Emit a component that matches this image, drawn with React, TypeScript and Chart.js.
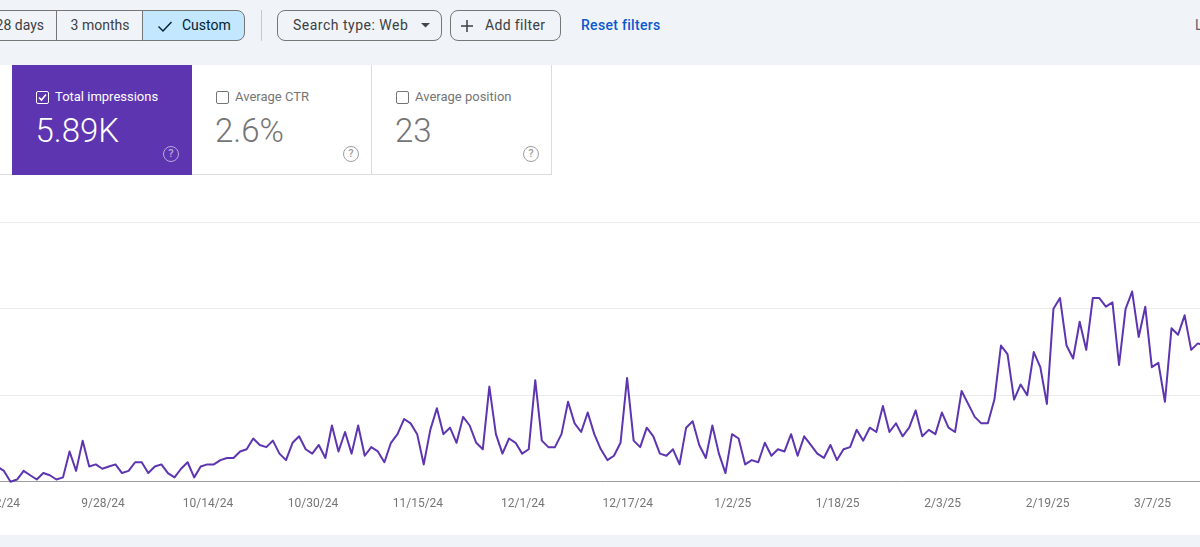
import React, { useEffect, useRef } from "react";
import { Chart, registerables } from "chart.js";

Chart.register(...registerables);

// Daily total impressions, one value per day from 9/12/24
const impressions = [
  7, 5, 0, 1, 5, 3, 1, 4, 3, 1, 2, 14, 5, 19, 7, 8,
  6, 7, 8, 4, 5, 9, 9, 4, 7, 8, 4, 2, 6, 9, 2, 7,
  8, 8, 10, 11, 11, 14, 15, 20, 17, 16, 19, 13, 10, 18, 21, 15,
  13, 17, 11, 26, 14, 23, 13, 26, 12, 16, 14, 9, 18, 22,
  29, 27, 22, 8, 24, 34, 22, 25, 18, 30, 26, 18, 15, 44, 22, 13,
  20, 18, 13, 15, 47, 19, 16, 16, 22, 37, 27, 23, 32, 22, 15, 10,
  12, 18, 48, 19, 16, 25, 21, 13, 12, 15, 8, 25, 28, 17, 11, 26,
  13, 4, 22, 20, 8, 10, 9, 18, 12, 15, 14, 22, 12,
  21, 17, 13, 11, 17, 10, 15, 16, 24, 19, 25, 23, 35, 23, 27, 21,
  25, 33, 21, 24, 22, 32, 25, 23, 42, 36, 30, 27, 27, 38, 63, 59,
  38, 45, 40, 60, 53, 36, 80, 85, 63, 57, 74, 61, 85, 85, 81, 83,
  54, 80, 88, 67, 81, 53, 55, 37, 71, 68, 77, 61, 64, 63,
];
const firstDay = Date.UTC(2024, 8, 12);
const dayMs = 86400000;
const tickEvery = 16;
const yTicks = [0, 40, 80, 120];

const categories = impressions.map((_, i) => {
  const d = new Date(firstDay + i * dayMs);
  return `${d.getUTCMonth() + 1}/${d.getUTCDate()}/${String(d.getUTCFullYear()).slice(2)}`;
});

const metricCards = [
  { title: "Average CTR", value: "2.6%", left: 192 },
  { title: "Average position", value: "23", left: 372 },
];

const FONT = "Roboto, sans-serif";
const PURPLE = "#5e35b1";

function Help({ x, y, color }: { x: number; y: number; color: string }) {
  return (
    <div
      style={{
        position: "absolute", left: x, top: y, width: 14, height: 14, borderRadius: "50%",
        border: `1.5px solid ${color}`, color, fontSize: 11, lineHeight: "14px",
        textAlign: "center", fontFamily: FONT, fontWeight: 500,
      }}
    >
      ?
    </div>
  );
}

export default function App() {
  const ref = useRef<HTMLCanvasElement | null>(null);

  useEffect(() => {
    document.body.style.margin = "0";
    const chart = new Chart(ref.current!, {
      type: "line",
      data: {
        labels: categories,
        datasets: [
          {
            data: impressions,
            borderColor: PURPLE,
            borderWidth: 2,
            borderJoinStyle: "round",
            pointRadius: 0,
            tension: 0,
            clip: false,
          },
        ],
      },
      options: {
        animation: false,
        responsive: false,
        devicePixelRatio: 1,
        layout: { padding: { left: 57.4, right: 5.7, top: 42.4, bottom: 0 } },
        plugins: { legend: { display: false }, tooltip: { enabled: false } },
        scales: {
          x: {
            type: "category",
            grid: { display: false },
            border: { display: false },
            afterFit: (s: any) => { s.height = 53.3; s.paddingLeft = 0; s.paddingRight = 0; },
            ticks: {
              autoSkip: false,
              maxRotation: 0,
              minRotation: 0,
              padding: 7,
              labelOffset: 0.7,
              color: "#757575",
              font: { family: FONT, size: 12 },
              callback: (_: any, i: number) => (i % tickEvery === 0 ? categories[i] : ""),
            },
          },
          y: {
            min: yTicks[0],
            max: yTicks[yTicks.length - 1],
            afterBuildTicks: (s: any) => { s.ticks = yTicks.map((value) => ({ value })); },
            afterFit: (s: any) => { s.width = 0; },
            border: { display: false },
            ticks: { display: false },
            grid: {
              drawTicks: false,
              lineWidth: 1,
              color: (c: any) => (c.tick.value === 0 ? "#9e9e9e" : "#ebebeb"),
            },
          },
        },
      },
    });
    return () => chart.destroy();
  }, []);

  const seg: React.CSSProperties = {
    position: "absolute", top: 10, height: 31, boxSizing: "border-box", paddingBottom: 2,
    border: "1px solid #747775", display: "flex", alignItems: "center",
    fontFamily: FONT, fontSize: 14, color: "#3c4043",
  };

  return (
    <div style={{ position: "relative", width: 1200, height: 547, overflow: "hidden", background: "#fff", fontFamily: FONT }}>
      <div style={{ position: "absolute", left: 0, top: 0, width: 1200, height: 65, background: "#f0f4f9" }} />
      <div style={{ ...seg, left: -40, width: 97, justifyContent: "flex-end", paddingRight: 13, borderRadius: "8px 0 0 8px", borderRight: "none" }}>28 days</div>
      <div style={{ ...seg, left: 56, width: 87, justifyContent: "center", borderRight: "none" }}>3 months</div>
      <div style={{ ...seg, left: 142, width: 103, background: "#c2e7ff", borderRadius: "0 8px 8px 0", paddingLeft: 14, color: "#001d35" }}>
        <svg width="16" height="16" viewBox="0 0 16 16" style={{ marginRight: 9, marginTop: 2 }}><path d="M1.5 8.5 L6 13 L14.5 4" fill="none" stroke="#001d35" strokeWidth="1.4" /></svg>
        Custom
      </div>
      <div style={{ position: "absolute", left: 261, top: 10, width: 1, height: 31, background: "#c7c9cc" }} />
      <div style={{ ...seg, left: 277, width: 165, borderRadius: 8, paddingLeft: 15, letterSpacing: 0.5 }}>
        Search type: Web
        <svg width="10" height="5" style={{ position: "absolute", left: 143, top: 12 }}><path d="M0 0 L9 0 L4.5 4.5 Z" fill="#444746" /></svg>
      </div>
      <div style={{ ...seg, left: 450, width: 111, borderRadius: 8, paddingLeft: 34, letterSpacing: 0.35 }}>
        <svg width="14" height="14" style={{ position: "absolute", left: 9, top: 8 }}><path d="M7 1 V13 M1 7 H13" stroke="#3c4043" strokeWidth="1.5" /></svg>
        Add filter
      </div>
      <div style={{ position: "absolute", left: 581, top: 10, height: 31, lineHeight: "31px", fontSize: 14, color: "#0b57d0", fontWeight: 500, letterSpacing: 0.3 }}>Reset filters</div>
      <div style={{ position: "absolute", left: 1195, top: 10, height: 31, lineHeight: "31px", fontSize: 14, color: "#5f6368", whiteSpace: "nowrap" }}>Last updated</div>

      <div style={{ position: "absolute", left: 0, top: 65, width: 552, height: 110, boxSizing: "border-box", borderBottom: "1px solid #dadce0", borderRight: "1px solid #dadce0" }} />
      <div style={{ position: "absolute", left: 12, top: 65, width: 180, height: 110, background: PURPLE, color: "#fff" }}>
        <div style={{ position: "absolute", left: 24, top: 26, width: 11, height: 11, border: "1px solid #fff", borderRadius: 2 }}>
          <svg width="11" height="11" style={{ display: "block" }}><path d="M2 5.5 L4.5 8 L9 2.5" fill="none" stroke="#fff" strokeWidth="1.6" /></svg>
        </div>
        <div style={{ position: "absolute", left: 43, top: 24, fontSize: 13, lineHeight: "16px", whiteSpace: "nowrap" }}>Total impressions</div>
        <div style={{ position: "absolute", left: 23.5, top: 47, fontSize: 33, fontWeight: 300, lineHeight: "38px", whiteSpace: "nowrap" }}>5.89K</div>
        <Help x={151} y={81} color="#b9a9dc" />
      </div>
      {metricCards.map((c) => (
        <div key={c.title} style={{ position: "absolute", left: c.left, top: 65, width: 180, height: 110, color: "#757575", boxSizing: "border-box", borderRight: "1px solid #dadce0" }}>
          <div style={{ position: "absolute", left: 24, top: 26, width: 11, height: 11, border: "1px solid #757575", borderRadius: 2 }} />
          <div style={{ position: "absolute", left: 43, top: 24, fontSize: 13, lineHeight: "16px", whiteSpace: "nowrap" }}>{c.title}</div>
          <div style={{ position: "absolute", left: 23, top: 47, fontSize: 33, fontWeight: 300, lineHeight: "38px", whiteSpace: "nowrap" }}>{c.value}</div>
          <Help x={151} y={81} color="#9e9e9e" />
        </div>
      ))}

      <canvas ref={ref} width={1270} height={355} style={{ position: "absolute", left: -60, top: 180, width: 1270, height: 355 }} />
      <div style={{ position: "absolute", left: 0, top: 535, width: 1200, height: 12, background: "#f0f4f9" }} />
    </div>
  );
}
